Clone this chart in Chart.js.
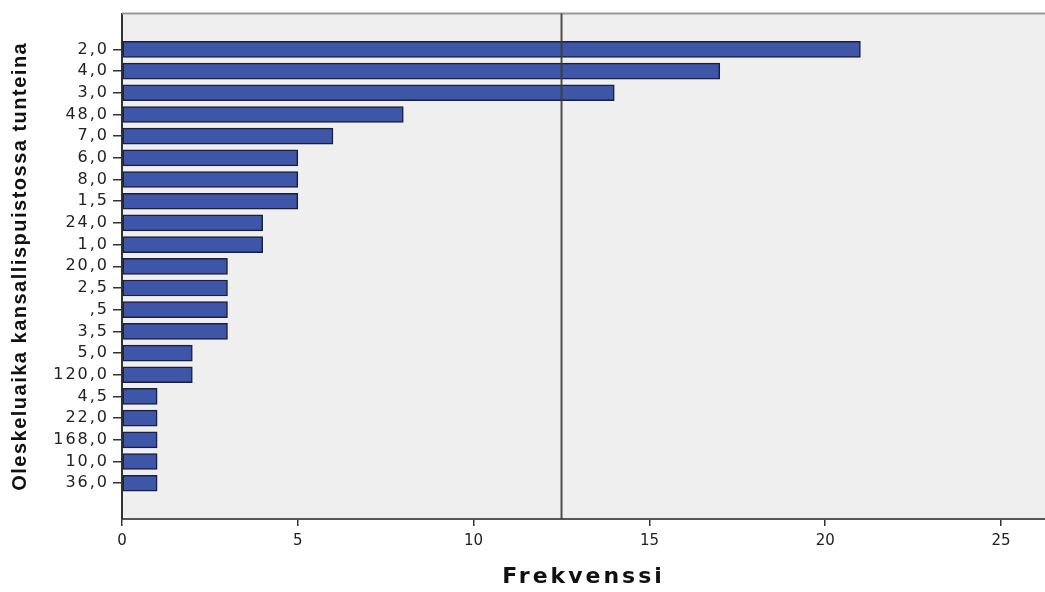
<!DOCTYPE html>
<html>
<head>
<meta charset="utf-8">
<script src="https://cdn.jsdelivr.net/npm/chart.js@4/dist/chart.umd.min.js"></script>
<style>
  html, body { margin: 0; padding: 0; background: #ffffff; }
  #wrap { width: 1045px; height: 592px; position: relative; }
</style>
</head>
<body>
<div id="wrap"><canvas id="c"></canvas></div>
<script>
// ---- data ----
const categories = ["2,0", "4,0", "3,0", "48,0", "7,0", "6,0", "8,0", "1,5", "24,0", "1,0",
                    "20,0", "2,5", ",5", "3,5", "5,0", "120,0", "4,5", "22,0", "168,0", "10,0", "36,0"];
const frequencies = [21, 17, 14, 8, 6, 5, 5, 5, 4, 4, 3, 3, 3, 3, 2, 2, 1, 1, 1, 1, 1];
const xTickValues = [0, 5, 10, 15, 20, 25];
const referenceValue = 12.5;
const xTitle = "Frekvenssi";
const yTitle = "Oleskeluaika kansallispuistossa tunteina";

const barPoints = frequencies.map((v, i) => ({ x: v, y: i }));

// letter spacing for parts of the axes drawn by Chart.js
function withSpacing(scale, method, spacing) {
  const orig = scale[method].bind(scale);
  scale[method] = function (...args) {
    const ctx = scale.ctx;
    ctx.save();
    ctx.letterSpacing = spacing;
    orig(...args);
    ctx.restore();
  };
}

const decorPlugin = {
  id: 'decor',
  beforeDraw(chart) {
    if (!chart.$patched) {
      withSpacing(chart.scales.y, 'drawLabels', '2px');
      withSpacing(chart.scales.y, 'drawTitle', '1.5px');
      withSpacing(chart.scales.x, 'drawTitle', '3px');
      chart.$patched = true;
    }
    const { ctx, chartArea: a } = chart;
    ctx.save();
    ctx.fillStyle = '#efefef';
    ctx.fillRect(a.left, a.top, a.right - a.left, a.bottom - a.top);
    ctx.restore();
  },
  afterDatasetsDraw(chart) {
    const { ctx, chartArea: a, scales } = chart;
    ctx.save();
    // top frame line
    ctx.strokeStyle = '#9a9a9a';
    ctx.lineWidth = 2;
    ctx.beginPath();
    ctx.moveTo(a.left, a.top);
    ctx.lineTo(a.right, a.top);
    ctx.stroke();
    // reference line
    const xr = scales.x.getPixelForValue(referenceValue);
    ctx.strokeStyle = 'rgba(60,60,60,0.9)';
    ctx.lineWidth = 2;
    ctx.beginPath();
    ctx.moveTo(xr, a.top);
    ctx.lineTo(xr, a.bottom);
    ctx.stroke();
    ctx.restore();
  }
};

new Chart(document.getElementById('c'), {
  type: 'bar',
  data: {
    datasets: [{
      data: barPoints,
      backgroundColor: '#3d56a8',
      borderColor: '#1c1f3a',
      borderWidth: 1.5,
      borderSkipped: false,
      barThickness: 16
    }]
  },
  options: {
    indexAxis: 'y',
    responsive: true,
    maintainAspectRatio: false,
    animation: false,
    layout: { padding: { top: 11, right: 0, left: 0, bottom: 0 } },
    plugins: { legend: { display: false }, tooltip: { enabled: false } },
    scales: {
      x: {
        type: 'linear',
        min: 0,
        max: 26.25,
        offset: false,
        afterBuildTicks: (s) => { s.ticks = xTickValues.map(v => ({ value: v })); },
        afterFit: (s) => { s.height = 73; },
        grid: { offset: false, drawOnChartArea: false, drawTicks: true, tickLength: 7, color: '#333', lineWidth: 1.5 },
        border: { display: true, color: '#555', width: 2 },
        ticks: {
          autoSkip: false,
          maxRotation: 0,
          padding: 6,
          color: '#222',
          font: { family: 'DejaVu Sans', size: 15 }
        },
        title: {
          display: true,
          text: xTitle,
          color: '#111',
          font: { family: 'DejaVu Sans', size: 22, weight: 'bold' },
          padding: { top: 0, bottom: 2 }
        }
      },
      y: {
        type: 'linear',
        reverse: true,
        offset: false,
        min: -1.65,
        max: 21.65,
        afterBuildTicks: (s) => { s.ticks = categories.map((c, i) => ({ value: i })); },
        afterFit: (s) => { s.width = 122; },
        grid: { offset: false, drawOnChartArea: false, drawTicks: true, tickLength: 9, color: '#333', lineWidth: 1.5 },
        border: { display: true, color: '#333', width: 2 },
        ticks: {
          autoSkip: false,
          padding: 4,
          color: '#222',
          font: { family: 'DejaVu Sans', size: 16 },
          callback: (v) => categories[v]
        },
        title: {
          display: true,
          text: yTitle,
          color: '#111',
          font: { family: 'Liberation Sans', size: 20, weight: 'bold' },
          padding: { top: 8, bottom: 0 }
        }
      }
    }
  },
  plugins: [decorPlugin]
});
</script>
</body>
</html>
